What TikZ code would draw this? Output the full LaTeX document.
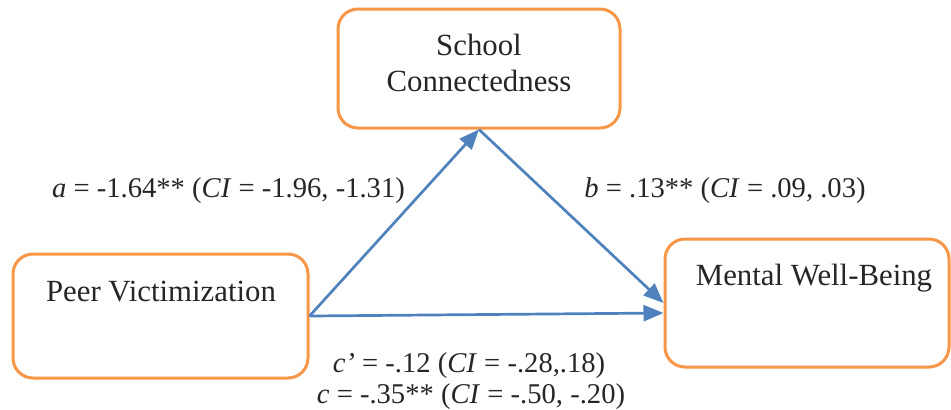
\documentclass[tikz,border=0pt]{standalone}
\usepackage{fontspec}
\setmainfont{Liberation Serif}
\usetikzlibrary{arrows.meta}
\definecolor{boxorange}{HTML}{F79646}
\definecolor{arrowblue}{HTML}{4F81BD}
\definecolor{txt}{HTML}{262626}
\begin{document}
\begin{tikzpicture}[x=0.5pt,y=-0.5pt,
  box/.style={draw=boxorange, line width=1.5pt, rounded corners=10pt, fill=white, rectangle, inner sep=0pt},
  boxtext/.style={text=txt, font=\fontsize{15.4pt}{18pt}\selectfont, inner sep=0pt, anchor=base},
  lbl/.style={text=txt, font=\fontsize{14.3pt}{17pt}\selectfont, inner sep=0pt, anchor=base},
  conn/.style={draw=arrowblue, line width=1.35pt, -{Triangle[length=10pt,width=8pt]}}]
\useasboundingbox (0,0) rectangle (951,409);
% boxes
\node[box, minimum width=141pt, minimum height=59.5pt] (sc) at (479,68.5) {};
\node[box, minimum width=147.5pt, minimum height=62pt] (pv) at (160.5,316) {};
\node[box, minimum width=142pt, minimum height=64pt] (mw) at (807,303) {};
% box texts
\node[boxtext] (sct1) at (479,55) {School};
\node[boxtext] (sct2) at (479,91) {Connectedness};
\node[boxtext] (pvt) at (161,301) {Peer Victimization};
\node[boxtext] (mwt) at (814,285) {Mental Well-Being};
% connectors
\coordinate (mwlow) at ([yshift=-5pt]mw.west);
\draw[conn] (pv.east) -- (sc.south);
\draw[conn] (sc.south) -- (mw.west);
\draw[conn] (pv.east) -- (mwlow);
% labels
\node[lbl] (la) at (228.5,197) {\textit{a} = -1.64** (\textit{CI} = -1.96, -1.31)};
\node[lbl] (lb) at (725,197) {\textit{b} = .13** (\textit{CI} = .09, .03)};
\node[lbl] (lcp) at (469,372) {\textit{c’} = -.12 (\textit{CI} = -.28,.18)};
\node[lbl] (lc) at (471,403) {\textit{c} = -.35** (\textit{CI} = -.50, -.20)};
\end{tikzpicture}
\end{document}
